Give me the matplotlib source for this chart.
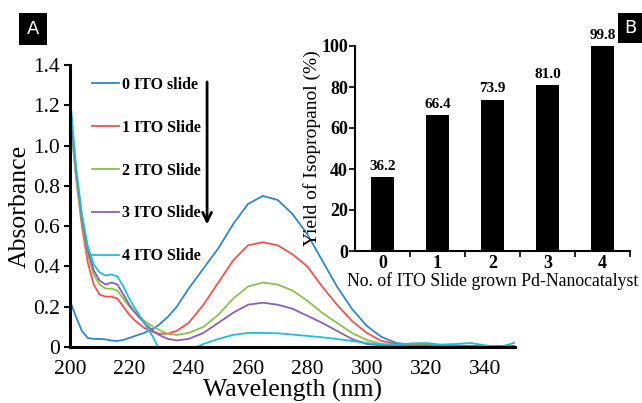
import matplotlib
matplotlib.use('Agg')
import matplotlib.pyplot as plt
from matplotlib.patches import Rectangle

# UV-vis spectra (panel A)
wavelength = [200, 202, 204, 206, 208, 210, 212, 214, 216, 218, 220, 222, 225, 228,
              230, 233, 236, 240, 245, 250, 255, 260, 265, 270, 275, 280, 285, 290,
              295, 300, 305, 310, 315, 320, 325, 330, 335, 340, 345, 350]
abs_0 = [0.23, 0.15, 0.08, 0.045, 0.04, 0.04, 0.038, 0.032, 0.03, 0.035, 0.045, 0.055,
         0.07, 0.09, 0.11, 0.15, 0.2, 0.29, 0.39, 0.49, 0.61, 0.71, 0.75, 0.73, 0.66,
         0.56, 0.43, 0.30, 0.19, 0.105, 0.05, 0.02, 0.012, 0.01, 0.008, 0.007, 0.006,
         0.005, 0.005, 0.005]
abs_1 = [1.18, 0.85, 0.6, 0.42, 0.31, 0.26, 0.25, 0.25, 0.24, 0.2, 0.16, 0.13, 0.095,
         0.075, 0.066, 0.066, 0.08, 0.12, 0.21, 0.32, 0.43, 0.505, 0.52, 0.505, 0.46,
         0.40, 0.30, 0.21, 0.13, 0.07, 0.03, 0.015, 0.01, 0.008, 0.007, 0.006, 0.005,
         0.005, 0.005, 0.005]
abs_2 = [1.15, 0.85, 0.62, 0.46, 0.36, 0.31, 0.29, 0.29, 0.28, 0.24, 0.2, 0.17, 0.13,
         0.1, 0.085, 0.065, 0.06, 0.07, 0.1, 0.16, 0.24, 0.3, 0.32, 0.31, 0.28, 0.23,
         0.17, 0.12, 0.07, 0.035, 0.015, 0.01, 0.008, 0.007, 0.006, 0.006, 0.005,
         0.005, 0.005, 0.005]
abs_3 = [1.2, 0.88, 0.64, 0.48, 0.38, 0.33, 0.31, 0.32, 0.31, 0.26, 0.21, 0.17, 0.12,
         0.08, 0.06, 0.04, 0.033, 0.04, 0.07, 0.12, 0.17, 0.21, 0.22, 0.21, 0.19, 0.155,
         0.12, 0.08, 0.04, 0.015, 0.008, 0.006, 0.005, 0.005, 0.005, 0.005, 0.005,
         0.005, 0.005, 0.005]
abs_4 = [1.25, 0.9, 0.66, 0.5, 0.41, 0.37, 0.355, 0.36, 0.35, 0.3, 0.24, 0.19, 0.12,
         0.05, -0.01, -0.06, -0.07, -0.02, 0.015, 0.04, 0.06, 0.07, 0.07, 0.068, 0.062,
         0.055, 0.048, 0.04, 0.03, 0.02, 0.012, 0.012, 0.018, 0.02, 0.012, 0.015, 0.02,
         0.008, 0.0, 0.022]
series_labels = ['0 ITO slide', '1 ITO Slide', '2 ITO Slide', '3 ITO Slide', '4 ITO Slide']
series_colors = ['#2F86CC', '#F0524C', '#8CC04C', '#8E5DB6', '#1DBFD8']

# Isopropanol yield (panel B)
n_slides = [0, 1, 2, 3, 4]
yield_pct = [36.2, 66.4, 73.9, 81.0, 99.8]

serif = 'Liberation Serif'

fig = plt.figure(figsize=(6.42, 4.03), dpi=100)

# ---- Panel A ----
ax = fig.add_axes([70/642, 1-347/403, 445/642, 282/403])
for ys, lab, col in zip([abs_0, abs_1, abs_2, abs_3, abs_4], series_labels, series_colors):
    ax.plot(wavelength, ys, color=col, lw=1.3, label=lab)
ax.set_xlim(200, 350)
ax.set_ylim(0, 1.4)
ax.set_xticks([200, 220, 240, 260, 280, 300, 320, 340])
ax.set_yticks([0, 0.2, 0.4, 0.6, 0.8, 1.0, 1.2, 1.4])
ax.set_yticklabels(['0', '0.2', '0.4', '0.6', '0.8', '1.0', '1.2', '1.4'])
for s in ['top', 'right']:
    ax.spines[s].set_visible(False)
for s in ['left', 'bottom']:
    ax.spines[s].set_linewidth(2.2)
ax.tick_params(axis='y', direction='out', length=4, width=1.5, pad=3)
ax.tick_params(axis='x', length=0, pad=9)
for t in ax.get_xticklabels() + ax.get_yticklabels():
    t.set_fontfamily(serif)
    t.set_fontsize(15.5)
ax.set_xlabel('Wavelength (nm)', fontfamily=serif, fontsize=18.5, labelpad=0)
ax.set_ylabel('Absorbance', fontfamily=serif, fontsize=18.5, labelpad=2)

ax.legend(loc='upper left', bbox_to_anchor=(84/642, 1-69/403), bbox_transform=fig.transFigure,
          frameon=False, borderpad=0, handlelength=1.7, handletextpad=0.2,
          labelspacing=1.68, prop={'family': serif, 'weight': 'bold', 'size': 11.5})

# downward arrow next to legend
ax.annotate('', xy=(246.2, 0.595), xytext=(246.2, 1.33),
            arrowprops=dict(arrowstyle='->', lw=2, color='black', mutation_scale=16))

# ---- Panel B (inset) ----
axb = fig.add_axes([355/642, 1-251/403, 275/642, 205/403])
axb.bar(n_slides, yield_pct, width=0.42, color='black')
for xv, yv in zip(n_slides, yield_pct):
    axb.text(xv, yv + 2, f'{yv:.1f}', ha='center', va='bottom',
             fontfamily=serif, fontweight='bold', fontsize=11)
axb.set_xlim(-0.5, 4.5)
axb.set_ylim(0, 100)
axb.set_yticks([0, 20, 40, 60, 80, 100])
axb.set_xticks(n_slides)
axb.set_xticks([0.5, 1.5, 2.5, 3.5, 4.5], minor=True)
for s in ['top', 'right']:
    axb.spines[s].set_visible(False)
for s in ['left', 'bottom']:
    axb.spines[s].set_linewidth(1.5)
axb.tick_params(axis='y', direction='out', length=4, width=1.2, pad=1)
axb.tick_params(axis='x', which='major', length=0, pad=3)
axb.tick_params(axis='x', which='minor', direction='out', length=4, width=1.2)
for t in axb.get_xticklabels() + axb.get_yticklabels():
    t.set_fontfamily(serif)
    t.set_fontweight('bold')
    t.set_fontsize(13)
axb.set_xlabel('No. of ITO Slide grown Pd-Nanocatalyst', fontfamily=serif, fontsize=12.8, labelpad=0)
axb.set_ylabel('Yield of Isopropanol (%)', fontfamily=serif, fontsize=14, labelpad=0)

# panel tags
fig.patches.append(Rectangle((19/642, 1-45/403), 28/642, 32/403, transform=fig.transFigure,
                             facecolor='black', edgecolor='none'))
fig.text(33/642, 1-29/403, 'A', color='white', fontsize=13, ha='center', va='center')
fig.patches.append(Rectangle((618/642, 1-43/403), 24/642, 30/403, transform=fig.transFigure,
                             facecolor='black', edgecolor='none'))
fig.text(630/642, 1-28/403, 'B', color='white', fontsize=13, ha='center', va='center')

fig.savefig('out.png', dpi=100, facecolor='white')
